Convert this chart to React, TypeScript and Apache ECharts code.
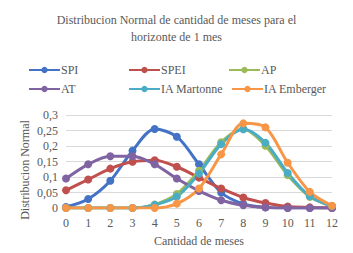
import React, { useEffect, useRef } from "react";
import * as echarts from "echarts";

const categories = ["0", "1", "2", "3", "4", "5", "6", "7", "8", "9", "10", "11", "12"];
const spi = [0.003, 0.029, 0.088, 0.185, 0.255, 0.23, 0.141, 0.05, 0.013, 0.002, 0, 0, 0];
const spei = [0.057, 0.092, 0.127, 0.149, 0.154, 0.133, 0.098, 0.063, 0.034, 0.016, 0.005, 0.002, 0];
const ap = [0, 0, 0, 0, 0.011, 0.045, 0.12, 0.212, 0.255, 0.201, 0.106, 0.036, 0.006];
const at = [0.095, 0.141, 0.167, 0.167, 0.141, 0.095, 0.055, 0.025, 0.009, 0.002, 0, 0, 0];
const iaMartonne = [0, 0, 0, 0, 0.01, 0.037, 0.111, 0.206, 0.254, 0.21, 0.113, 0.038, 0.006];
const iaEmberger = [0, 0, 0, 0, 0, 0.014, 0.063, 0.173, 0.273, 0.26, 0.146, 0.052, 0.007];

const names = ["SPI", "SPEI", "AP", "AT", "IA Martonne", "IA Emberger"];
const colors = ["#4472C4", "#C0504D", "#9BBB59", "#8064A2", "#4BACC6", "#F79646"];
const seriesData = [spi, spei, ap, at, iaMartonne, iaEmberger];
const legendPos = [
  [28, 64], [128, 64], [228, 64],
  [28, 83], [128, 83], [231, 83],
];

const FONT = "'Liberation Serif', 'Times New Roman', serif";
const TXT = "#595959";

export default function App() {
  const ref = useRef<HTMLDivElement>(null);
  useEffect(() => {
    const chart = echarts.init(ref.current!, null, { renderer: "svg" });
    chart.setOption({
      animation: false,
      textStyle: { fontFamily: FONT },
      title: {
        text: "Distribucion Normal de cantidad de meses para el\nhorizonte de 1 mes",
        left: "center",
        top: 6,
        textStyle: { fontFamily: FONT, fontSize: 12, fontWeight: "normal", color: TXT, lineHeight: 17 },
      },
      legend: names.map((n, i) => ({
        data: [n],
        left: legendPos[i][0],
        top: legendPos[i][1],
        itemWidth: 31,
        itemHeight: 8,
        itemGap: 0,
        padding: 0,
        textStyle: { fontFamily: FONT, fontSize: 12, color: TXT, padding: [0, 0, 0, -4] },
      })),
      graphic: [
        {
          type: "text",
          x: 25,
          y: 170,
          rotation: Math.PI / 2,
          style: {
            text: "Distribucion Normal",
            fontFamily: FONT,
            fontSize: 12,
            fill: TXT,
            align: "center",
            verticalAlign: "middle",
          },
        },
      ],
      grid: { left: 66, right: 21, top: 115, bottom: 45 },
      xAxis: {
        type: "category",
        data: categories,
        boundaryGap: false,
        name: "Cantidad de meses",
        nameLocation: "middle",
        nameGap: 27,
        nameTextStyle: { fontFamily: FONT, fontSize: 12, color: TXT },
        axisLine: { show: true, lineStyle: { color: "#D9D9D9" } },
        axisTick: { show: false },
        axisLabel: { fontFamily: FONT, fontSize: 12, color: TXT, margin: 9 },
      },
      yAxis: {
        type: "value",
        min: 0,
        max: 0.3,
        interval: 0.05,
        axisLine: { show: false },
        axisTick: { show: false },
        splitLine: { lineStyle: { color: "#D9D9D9" } },
        axisLabel: {
          fontFamily: FONT,
          fontSize: 12,
          color: TXT,
          margin: 8,
          formatter: (v: number) => (Math.round(v * 100) / 100).toString().replace(".", ","),
        },
      },
      series: names.map((n, i) => ({
        name: n,
        type: "line",
        data: seriesData[i],
        smooth: 0.3,
        symbol: "circle",
        symbolSize: 8,
        color: colors[i],
        lineStyle: { width: 3, color: colors[i] },
        itemStyle: { color: colors[i] },
      })),
    });
    return () => chart.dispose();
  }, []);
  return <div ref={ref} style={{ width: 353, height: 253, position: "absolute", left: 0, top: 0 }} />;
}
